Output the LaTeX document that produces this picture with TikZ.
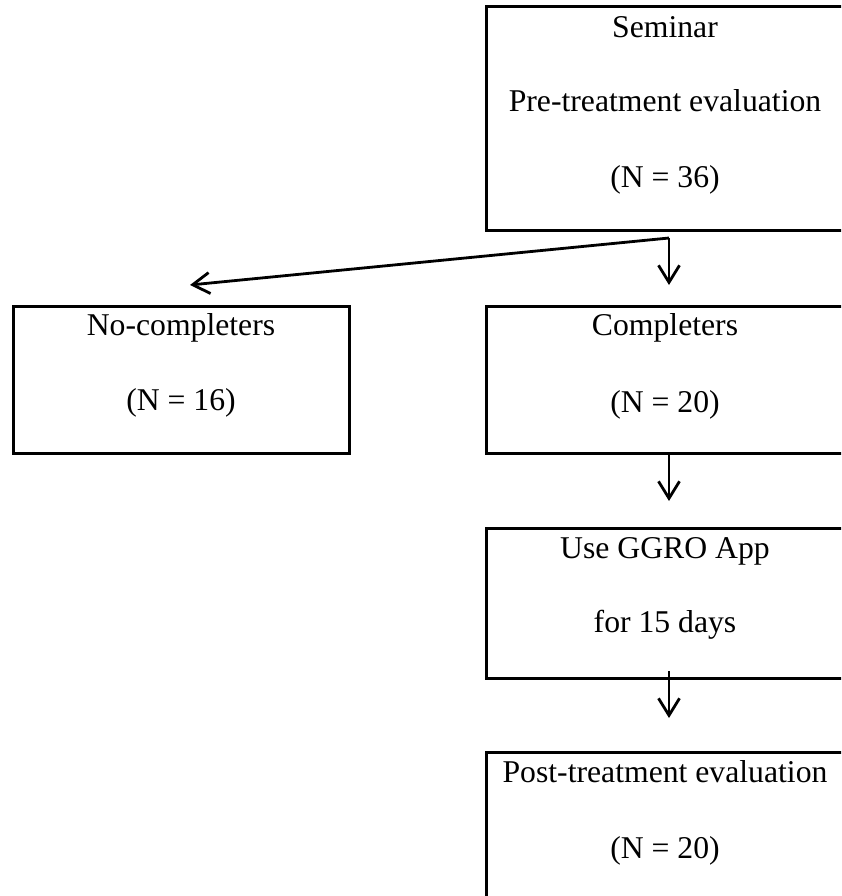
\documentclass[tikz,border=0pt]{standalone}
\usepackage{fontspec}
\setmainfont{Liberation Serif}
\usetikzlibrary{arrows.meta}
\begin{document}
\begin{tikzpicture}[x=1pt,y=-1pt,
  flowbox/.style={draw, line width=3pt, rectangle, inner sep=0pt},
  label/.style={anchor=base, inner sep=0pt, font=\fontsize{31.7}{38}\selectfont},
  flow/.style={line width=2.8pt, -{Straight Barb[length=17pt, width=21pt, line width=2.8pt]}}]
  \useasboundingbox (0,0) rectangle (841,896);
  \clip (0,0) rectangle (841,896);

  % boxes (right edges and last bottom run past the frame)
  \node[flowbox, minimum width=362pt, minimum height=223pt] (seminar) at (667,118.5) {};
  \node[flowbox, minimum width=336pt, minimum height=147pt] (nocomp) at (181,379.5) {};
  \node[flowbox, minimum width=362pt, minimum height=147pt] (comp) at (667,379.5) {};
  \node[flowbox, minimum width=362pt, minimum height=150pt] (app) at (667,603) {};
  \node[flowbox, minimum width=362pt, minimum height=150pt] (post) at (667,827) {};

  % box texts
  \node[label] (t1) at (665,38) {Seminar};
  \node[label] (t2) at (665,112) {Pre-treatment evaluation};
  \node[label] (t3) at (665,188) {(N = 36)};
  \node[label] (t4) at (181,335) {No-completers};
  \node[label] (t5) at (181,410) {(N = 16)};
  \node[label] (t6) at (665,335) {Completers};
  \node[label] (t7) at (665,412) {(N = 20)};
  \node[label] (t8) at (665,558) {Use GGRO App};
  \node[label] (t9) at (665,632) {for 15 days};
  \node[label] (t10) at (665,782) {Post-treatment evaluation};
  \node[label] (t11) at (665,858) {(N = 20)};

  % connector points
  \coordinate (split) at (669,238);
  \coordinate (toComp) at (669,285);
  \coordinate (toNo) at (190,285);
  \coordinate (compOut) at (669,453);
  \coordinate (toApp) at (669,501);
  \coordinate (appOut) at (669,671);
  \coordinate (toPost) at (669,718);

  \draw[flow] (split) -- (toComp);
  \draw[flow] (split) -- (toNo);
  \draw[flow] (compOut) -- (toApp);
  \draw[flow] (appOut) -- (toPost);
\end{tikzpicture}
\end{document}
